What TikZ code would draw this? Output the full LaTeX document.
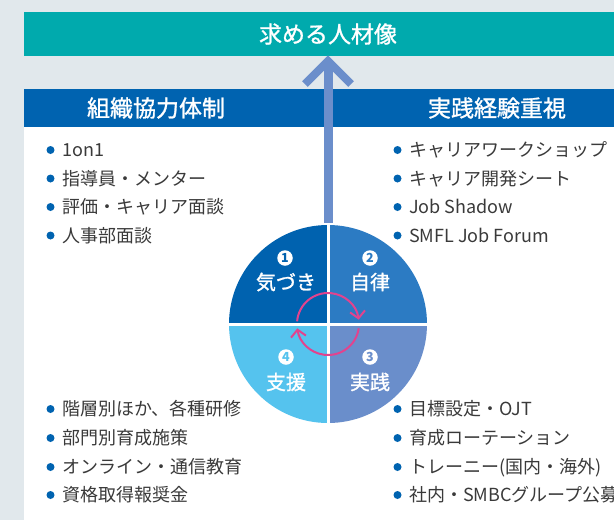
\documentclass[tikz,border=0pt]{standalone}
\usepackage{fontspec}
\setmainfont{Noto Sans CJK JP}
\newfontfamily\medfont[FakeBold=1.2]{Noto Sans CJK JP}
\usetikzlibrary{arrows.meta}
\definecolor{bgc}{HTML}{E1E8EC}
\definecolor{tealc}{HTML}{00AAAD}
\definecolor{hdrc}{HTML}{0063B0}
\definecolor{arrc}{HTML}{6B8ECB}
\definecolor{qa}{HTML}{0062AF}
\definecolor{qb}{HTML}{2C7BC3}
\definecolor{qc}{HTML}{6A8ECB}
\definecolor{qd}{HTML}{55C3EE}
\definecolor{pinkc}{HTML}{E2438E}
\definecolor{bulc}{HTML}{0063B0}
\definecolor{txtc}{HTML}{3A3A3A}
\begin{document}
\begin{tikzpicture}[x=1pt,y=-1pt,
  item/.style={anchor=west, inner sep=0pt, font=\fontsize{18}{18}\selectfont, text=txtc,
    text height=15.8pt, text depth=2.2pt},
  bul/.style={fill=bulc},
  hdrtext/.style={text=white, inner sep=0pt, font=\medfont\fontsize{23}{23}\selectfont},
  numc/.style={circle, fill=white, minimum size=15.5pt, inner sep=0pt, font=\bfseries\fontsize{12.5}{12.5}\selectfont},
  qlabel/.style={text=white, inner sep=0pt, font=\medfont\fontsize{20}{20}\selectfont},
  shaft/.style={draw=arrc, line width=9pt},
  cycarrow/.style={draw=pinkc, line width=2pt, -{Straight Barb[length=7pt,width=15pt]}}
]
\useasboundingbox (0,0) rectangle (614,520);
\fill[bgc] (0,0) rectangle (614,520);
\node[fill=tealc, minimum width=590pt, minimum height=44pt, inner sep=0pt, anchor=north west] (bar) at (24,12) {};
\node[fill=hdrc, minimum width=590pt, minimum height=38pt, inner sep=0pt, anchor=north west] (hdr) at (24,89) {};
\fill[white] (24,127) rectangle (614,520);

\node[hdrtext] (title) at (328,34) {求める人材像};
\node[hdrtext] (h1) at (156,108) {組織協力体制};
\node[hdrtext] (h2) at (497,108) {実践経験重視};

% wheel
\coordinate (c) at (328,324);
\fill[qa] (c) -- ++(180:99) arc[start angle=180, end angle=270, radius=99] -- cycle;
\fill[qb] (c) -- ++(270:99) arc[start angle=270, end angle=360, radius=99] -- cycle;
\fill[qc] (c) -- ++(0:99) arc[start angle=0, end angle=90, radius=99] -- cycle;
\fill[qd] (c) -- ++(90:99) arc[start angle=90, end angle=180, radius=99] -- cycle;
\node[circle, minimum size=198pt, inner sep=0pt] (wheel) at (c) {};
\draw[white, line width=3pt] (wheel.west) -- (wheel.east);
\draw[white, line width=3pt] (wheel.north) -- (wheel.south);

% arrow up
\draw[shaft] ([yshift=2pt]wheel.north) -- ([yshift=-8pt]bar.south -| wheel.north);
\coordinate (tip) at (328,61);
\draw[shaft, line width=8pt, miter limit=10] ([shift={(-23,23)}]tip) -- (tip) -- ([shift={(23,23)}]tip);

% cycle arrows
\draw[cycarrow] (c) ++(185:31) arc[start angle=185, end angle=352, radius=31];
\draw[cycarrow] (c) ++(8:31) arc[start angle=8, end angle=172, radius=31];

% quadrant labels
\node[numc, text=qa] (n1) at (285,258) {1};
\node[qlabel] (l1) at (286,282) {気づき};
\node[numc, text=qb] (n2) at (370,258) {2};
\node[qlabel] (l2) at (370,282) {自律};
\node[numc, text=qc] (n3) at (370,357) {3};
\node[qlabel] (l3) at (370,382) {実践};
\node[numc, text=qd] (n4) at (286,357) {4};
\node[qlabel] (l4) at (286,382) {支援};

% lists
\node[item] (a1) at (62,150) {1on1};
\node[item] (a2) at (62,178.5) {指導員・メンター};
\node[item] (a3) at (62,207) {評価・キャリア面談};
\node[item] (a4) at (62,235.5) {人事部面談};

\node[item] (b1) at (409,150) {キャリアワークショップ};
\node[item] (b2) at (409,178.5) {キャリア開発シート};
\node[item] (b3) at (409,207) {Job Shadow};
\node[item] (b4) at (409,235.5) {SMFL Job Forum};

\node[item] (c1) at (62,409) {階層別ほか、各種研修};
\node[item] (c2) at (62,438) {部門別育成施策};
\node[item] (c3) at (62,467) {オンライン・通信教育};
\node[item] (c4) at (62,495) {資格取得報奨金};

\node[item] (d1) at (409,409) {目標設定・OJT};
\node[item] (d2) at (409,438) {育成ローテーション};
\node[item] (d3) at (409,467) {トレーニー(国内・海外)};
\node[item] (d4) at (409,495) {社内・SMBCグループ公募};

\foreach \n in {a1,a2,a3,a4,b1,b2,b3,b4,c1,c2,c3,c4,d1,d2,d3,d4}
  \fill[bul] ([xshift=-11.5pt]\n.west) circle[radius=4pt];
\end{tikzpicture}
\end{document}
